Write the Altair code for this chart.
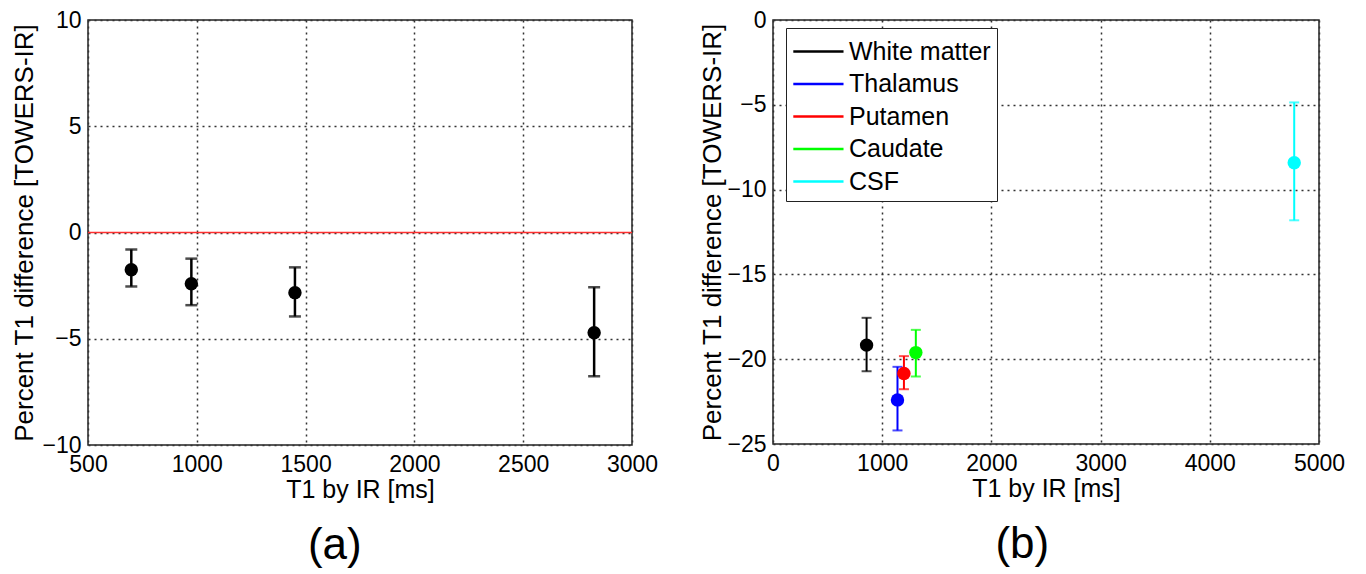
import altair as alt
import pandas as pd

FONT = "Liberation Sans"

# ---------------- panel (a) data ----------------
a_t1 = [699, 975, 1451, 2826]
a_diff = [-1.75, -2.41, -2.83, -4.72]
a_lo = [-2.54, -3.42, -3.95, -6.77]
a_hi = [-0.80, -1.23, -1.64, -2.58]
a_xticks = [500, 1000, 1500, 2000, 2500, 3000]
a_yticks = [-10, -5, 0, 5, 10]
a_ref = [0]

# ---------------- panel (b) data ----------------
b_regions = ["White matter", "Thalamus", "Putamen", "Caudate", "CSF"]
b_colors = ["#000000", "#0000ff", "#ff0000", "#00ff00", "#00ffff"]
b_t1 = [857, 1140, 1199, 1308, 4773]
b_diff = [-19.17, -22.40, -20.84, -19.61, -8.42]
b_lo = [-20.71, -24.20, -21.77, -21.02, -11.81]
b_hi = [-17.56, -20.45, -19.82, -18.27, -4.86]
b_xticks = [0, 1000, 2000, 3000, 4000, 5000]
b_yticks = [-25, -20, -15, -10, -5, 0]

XTITLE = "T1 by IR [ms]"
YTITLE = "Percent T1  difference [TOWERS-IR]"


def x_axis(vals):
    return alt.Axis(values=vals, grid=True, gridDash=[2, 4], gridColor="#333333",
                    gridWidth=1.5, domain=False, ticks=False, labelPadding=8,
                    labelFontSize=23, labelFont=FONT, labelColor="black",
                    labelOverlap=False, labelFlush=False, format="d",
                    title=XTITLE, titleFontSize=25, titleFont=FONT,
                    titleFontWeight="normal", titleColor="black", titlePadding=1)


def y_axis(vals, tpad):
    return alt.Axis(values=vals, grid=True, gridDash=[2, 4], gridColor="#333333",
                    gridWidth=1.5, domain=False, ticks=False, labelPadding=7,
                    labelFontSize=23, labelFont=FONT, labelColor="black",
                    labelOverlap=False, labelFlush=False, format="d",
                    title=YTITLE, titleFontSize=26, titleFont=FONT,
                    titleFontWeight="normal", titleColor="black", titlePadding=tpad)


def caption(txt):
    return alt.TitleParams(txt, orient="bottom", anchor="middle", frame="bounds",
                           fontSize=44, fontWeight="normal", font=FONT,
                           color="black", offset=22)


# ---------------- panel (a) ----------------
dfa = pd.DataFrame({"t1": a_t1, "diff": a_diff, "lo": a_lo, "hi": a_hi})
xa = alt.X("t1:Q", scale=alt.Scale(domain=[500, 3000], nice=False, zero=False),
           axis=x_axis(a_xticks))
ya_scale = alt.Scale(domain=[-10, 10], nice=False, zero=False)

base_a = alt.Chart(dfa)
ref_a = alt.Chart(pd.DataFrame({"v": a_ref})).mark_rule(color="#ff3030", strokeWidth=1.5).encode(
    y=alt.Y("v:Q", scale=ya_scale, axis=y_axis(a_yticks, 4)))
bars_a = base_a.mark_rule(color="black", strokeWidth=2.5).encode(
    x=xa, y=alt.Y("lo:Q", scale=ya_scale), y2="hi:Q")
cap_lo_a = base_a.mark_tick(orient="horizontal", size=12, thickness=2.5, color="black").encode(
    x=xa, y=alt.Y("lo:Q", scale=ya_scale))
cap_hi_a = base_a.mark_tick(orient="horizontal", size=12, thickness=2.5, color="black").encode(
    x=xa, y=alt.Y("hi:Q", scale=ya_scale))
pts_a = base_a.mark_circle(size=180, color="black", opacity=1).encode(
    x=xa, y=alt.Y("diff:Q", scale=ya_scale))

panel_a = alt.layer(ref_a, bars_a, cap_lo_a, cap_hi_a, pts_a).properties(
    width=544, height=425, title=caption("(a)"))

# ---------------- panel (b) ----------------
dfb = pd.DataFrame({"region": b_regions, "t1": b_t1, "diff": b_diff, "lo": b_lo, "hi": b_hi})
xb = alt.X("t1:Q", scale=alt.Scale(domain=[0, 5000], nice=False, zero=False),
           axis=x_axis(b_xticks))
yb_scale = alt.Scale(domain=[-25, 0], nice=False, zero=False)
cscale = alt.Scale(domain=b_regions, range=b_colors)
legend_b = alt.Legend(title=None, orient="none", legendX=13, legendY=8,
                      symbolType="M-1,0H2.1", symbolSize=1050, symbolStrokeWidth=2.5,
                      labelFontSize=25, labelFont=FONT, labelColor="black",
                      labelOffset=22, rowPadding=1.5, padding=6,
                      strokeColor="#222222", fillColor="white")

base_b = alt.Chart(dfb)
bars_b = base_b.mark_rule(strokeWidth=2).encode(
    x=xb, y=alt.Y("lo:Q", scale=yb_scale, axis=y_axis(b_yticks, 1)), y2="hi:Q",
    color=alt.Color("region:N", scale=cscale, legend=legend_b))
cap_lo_b = base_b.mark_tick(orient="horizontal", size=10, thickness=2).encode(
    x=xb, y=alt.Y("lo:Q", scale=yb_scale),
    color=alt.Color("region:N", scale=cscale, legend=None))
cap_hi_b = base_b.mark_tick(orient="horizontal", size=10, thickness=2).encode(
    x=xb, y=alt.Y("hi:Q", scale=yb_scale),
    color=alt.Color("region:N", scale=cscale, legend=None))
pts_b = base_b.mark_circle(size=180, opacity=1).encode(
    x=xb, y=alt.Y("diff:Q", scale=yb_scale),
    color=alt.Color("region:N", scale=cscale, legend=None))

panel_b = alt.layer(bars_b, cap_lo_b, cap_hi_b, pts_b).properties(
    width=546, height=424, title=caption("(b)"))

chart = alt.hconcat(panel_a, panel_b, spacing=40).resolve_scale(
    color="independent").resolve_legend(color="independent").properties(
    padding={"left": 3, "top": 0, "right": 0, "bottom": 0},
    background="white",
).configure_view(stroke="#222222", strokeWidth=1.5)

chart.save("out.html", embed_options={"renderer": "svg", "actions": False})
